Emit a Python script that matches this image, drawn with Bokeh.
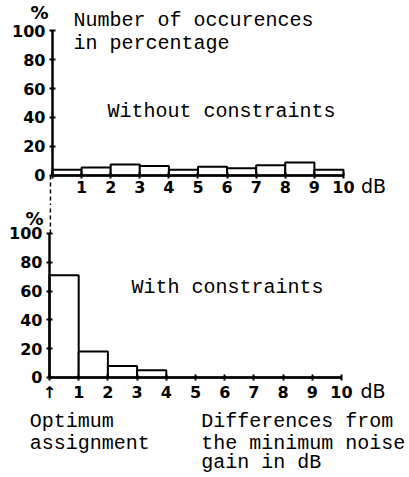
from bokeh.plotting import figure
from bokeh.models import Range1d, FixedTicker, Label, LinearAxis
from bokeh.layouts import column
from bokeh.embed import file_html
from bokeh.resources import INLINE

# ---- data ----
bin_left = [0, 1, 2, 3, 4, 5, 6, 7, 8, 9]
bin_right = [1, 2, 3, 4, 5, 6, 7, 8, 9, 10]
without_constraints = [4, 5.5, 7.5, 6.5, 4, 6, 5, 7, 9, 4]
with_constraints = [71, 18, 8, 5, 0, 0, 0, 0, 0, 0]
y_ticks = [0, 20, 40, 60, 80, 100]
x_ticks = [0, 1, 2, 3, 4, 5, 6, 7, 8, 9, 10]

MONO = "Liberation Mono"
TICKF = "DejaVu Sans"


def make_fig(height, xr, yr):
    p = figure(width=405, height=height, output_backend="svg", toolbar_location=None,
               x_range=Range1d(*xr), y_range=Range1d(*yr),
               x_axis_location=None, y_axis_location=None,
               min_border=0, min_border_left=0, min_border_right=0,
               min_border_top=0, min_border_bottom=0)
    p.outline_line_color = None
    p.grid.visible = False
    xa = LinearAxis(fixed_location=0, bounds=(0, 10), ticker=FixedTicker(ticks=x_ticks))
    ya = LinearAxis(fixed_location=0, bounds=(0, 100), ticker=FixedTicker(ticks=y_ticks))
    for ax in (xa, ya):
        ax.axis_line_width = 2.5
        ax.axis_line_color = "black"
        ax.major_tick_line_width = 2
        ax.major_tick_in = 3
        ax.major_tick_out = 3
        ax.minor_tick_line_color = None
        ax.major_label_text_font = TICKF
        ax.major_label_text_font_size = "16px"
        ax.major_label_text_font_style = "bold"
        ax.major_label_text_color = "black"
    ya.major_label_standoff = 4
    xa.major_label_standoff = 3
    p.add_layout(xa, "below")
    p.add_layout(ya, "left")
    return p, xa, ya


def lab(p, x, y, t, size="20px", font=MONO, align="left", style="normal"):
    p.add_layout(Label(x=x, y=y, text=t, text_font=font, text_font_size=size,
                       text_font_style=style, text_baseline="middle",
                       text_align=align, text_color="black"))


# ---- top chart ----
p1, xa1, ya1 = make_fig(205, (-1.787, 12.131), (-20.69, 120.69))
p1.quad(left=bin_left, right=bin_right, bottom=0, top=without_constraints,
        fill_color="white", line_color="black", line_width=2)
xa1.major_label_overrides = {0: ""}
p1.segment(x0=[-0.07], y0=[0], x1=[-0.07], y1=[-20.7], line_dash="4 3",
           line_width=1.5, line_color="black")
lab(p1, -0.45, 112.6, "%", size="18px", font=TICKF, align="center", style="bold")
lab(p1, 0.72, 106.9, "Number of occurences")
lab(p1, 0.72, 91, "in percentage")
lab(p1, 1.89, 44.1, "Without constraints")
lab(p1, 10.6, -7.2, "dB", size="19px", font=TICKF)

# ---- bottom chart ----
p2, xa2, ya2 = make_fig(270, (-1.678, 12.192), (-68.06, 119.44))
p2.quad(left=bin_left, right=bin_right, bottom=0, top=with_constraints,
        fill_color="white", line_color="black", line_width=2)
xa2.major_label_overrides = {0: "\u2191"}
p2.segment(x0=[0.03], y0=[100], x1=[0.03], y1=[119.5], line_dash="4 3",
           line_width=1.5, line_color="black")
lab(p2, -0.51, 110.5, "%", size="18px", font=TICKF, align="center", style="bold")
lab(p2, 2.81, 62.5, "With constraints")
lab(p2, 10.65, -9.2, "dB", size="19px", font=TICKF)
lab(p2, -0.68, -30.6, "Optimum")
lab(p2, -0.68, -45.6, "assignment")
lab(p2, 5.2, -30.6, "Differences from")
lab(p2, 5.2, -45.6, "the minimum noise")
lab(p2, 5.2, -59.2, "gain in dB")

layout = column(p1, p2)
open("out.html", "w").write(file_html(layout, INLINE))
